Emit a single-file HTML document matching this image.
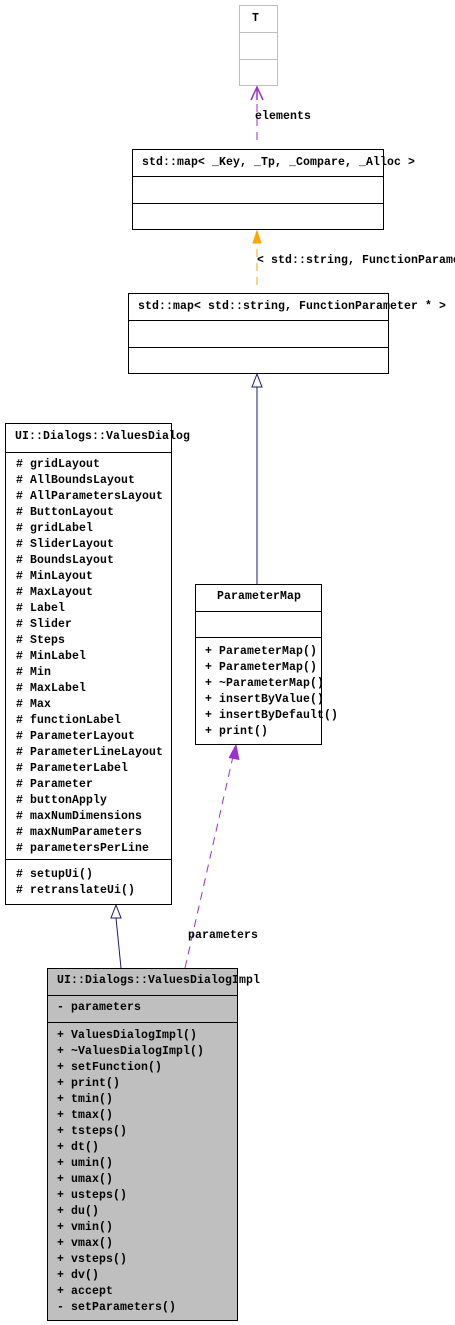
<!DOCTYPE html>
<html><head><meta charset="utf-8"><style>
body{margin:0;width:455px;height:1325px;background:#fff;position:relative;overflow:hidden;font-family:"Liberation Mono","DejaVu Sans Mono",monospace;font-weight:bold;font-size:11.5px;color:#000}
.b{position:absolute;border:1px solid #000;box-sizing:border-box}
.h{position:absolute;left:0;right:0;border-top:1px solid #000}
.t{position:absolute;white-space:pre;line-height:14px;letter-spacing:0.1px}
svg{position:absolute;left:0;top:0}
</style></head><body>
<svg width="455" height="1325">
<g fill="none" stroke-width="1">
<line x1="257" y1="140" x2="257" y2="90" stroke="#9a32cd" stroke-dasharray="8,6"/>
<path d="M251,100 L257,87 L263,100 M257,87 L257,100" stroke="#9a32cd" stroke-width="1.5"/>
<line x1="257" y1="285" x2="257" y2="240" stroke="#ffa500" stroke-dasharray="8,6"/>
<path d="M253,243 L257,231 L261,243 Z" stroke="#ffa500" fill="#ffa500"/>
<line x1="257" y1="584" x2="257" y2="387" stroke="#191970"/>
<path d="M252,387 L257,374 L262,387 Z" stroke="#191970" fill="#fff"/>
<line x1="121" y1="968" x2="116" y2="918" stroke="#191970"/>
<path d="M111,918 L116,905 L121,918 Z" stroke="#191970" fill="#fff"/>
<line x1="185" y1="968" x2="234" y2="752" stroke="#9a32cd" stroke-dasharray="8,6"/>
<path d="M229,758 L236,745 L239,760" stroke="#9a32cd" fill="#9a32cd"/>
</g>
</svg>

<div class="b" style="left:239px;top:5px;width:39px;height:81px;border-color:#bfbfbf"><div class="h" style="top:26px;border-color:#bfbfbf"></div><div class="h" style="top:53px;border-color:#bfbfbf"></div></div>
<div class="t" style="left:252px;top:12px">T</div>

<div class="b" style="left:132px;top:149px;width:252px;height:81px"><div class="h" style="top:26px"></div><div class="h" style="top:53px"></div></div>
<div class="t" style="left:142px;top:156px">std::map&lt; _Key, _Tp, _Compare, _Alloc &gt;</div>
<div class="t" style="left:255px;top:110px">elements</div>
<div class="t" style="left:257px;top:254px">&lt; std::string, FunctionParame</div>

<div class="b" style="left:128px;top:293px;width:261px;height:81px"><div class="h" style="top:26px"></div><div class="h" style="top:53px"></div></div>
<div class="t" style="left:138px;top:300px">std::map&lt; std::string, FunctionParameter * &gt;</div>

<div class="b" style="left:5px;top:423px;width:167px;height:482px"><div class="h" style="top:28px"></div><div class="h" style="top:435px"></div></div>
<div class="t" style="left:15px;top:430px">UI::Dialogs::ValuesDialog</div>
<div class="t" style="left:16px;top:457px;line-height:16px"># gridLayout
# AllBoundsLayout
# AllParametersLayout
# ButtonLayout
# gridLabel
# SliderLayout
# BoundsLayout
# MinLayout
# MaxLayout
# Label
# Slider
# Steps
# MinLabel
# Min
# MaxLabel
# Max
# functionLabel
# ParameterLayout
# ParameterLineLayout
# ParameterLabel
# Parameter
# buttonApply
# maxNumDimensions
# maxNumParameters
# parametersPerLine</div>
<div class="t" style="left:16px;top:867px;line-height:16px"># setupUi()
# retranslateUi()</div>

<div class="b" style="left:195px;top:584px;width:127px;height:161px"><div class="h" style="top:26px"></div><div class="h" style="top:52px"></div></div>
<div class="t" style="left:217px;top:590px">ParameterMap</div>
<div class="t" style="left:205px;top:644px;line-height:16px">+ ParameterMap()
+ ParameterMap()
+ ~ParameterMap()
+ insertByValue()
+ insertByDefault()
+ print()</div>
<div class="t" style="left:188px;top:929px">parameters</div>

<div class="b" style="left:47px;top:968px;width:191px;height:353px;background:#bfbfbf"><div class="h" style="top:26px"></div><div class="h" style="top:53px"></div></div>
<div class="t" style="left:57px;top:974px">UI::Dialogs::ValuesDialogImpl</div>
<div class="t" style="left:57px;top:1001px">- parameters</div>
<div class="t" style="left:57px;top:1028px;line-height:16px">+ ValuesDialogImpl()
+ ~ValuesDialogImpl()
+ setFunction()
+ print()
+ tmin()
+ tmax()
+ tsteps()
+ dt()
+ umin()
+ umax()
+ usteps()
+ du()
+ vmin()
+ vmax()
+ vsteps()
+ dv()
+ accept
- setParameters()</div>
</body></html>
